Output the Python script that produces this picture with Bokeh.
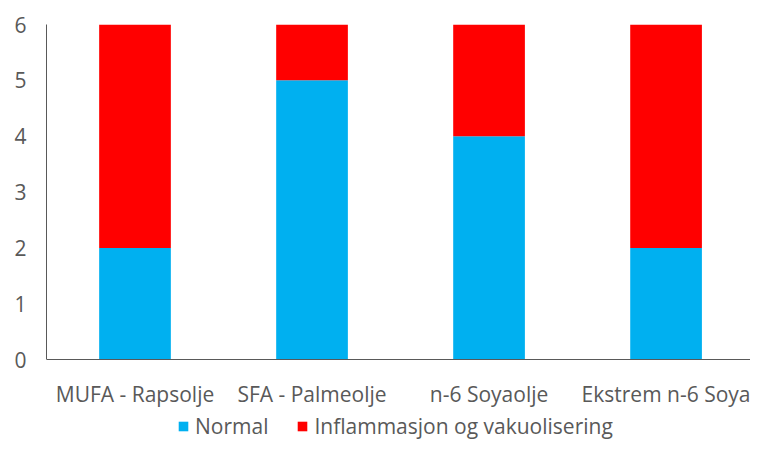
from bokeh.plotting import figure
from bokeh.models import Range1d, FixedTicker, Legend, LegendItem, ColumnDataSource
from bokeh.embed import file_html
from bokeh.resources import INLINE

categories = ["MUFA - Rapsolje", "SFA - Palmeolje", "n-6 Soyaolje", "Ekstrem n-6 Soya"]
normal = [2, 5, 4, 2]
inflam = [4, 1, 2, 4]
series_names = ["Normal", "Inflammasjon og vakuolisering"]
colors = ["#00B0F0", "#FF0000"]
y_ticks = [0, 1, 2, 3, 4, 5, 6]

FONT = "Open Sans"
GREY = "#595959"

xs = list(range(len(categories)))
src = ColumnDataSource(dict(x=xs, normal=normal, inflam=inflam,
                            top=[a + b for a, b in zip(normal, inflam)]))

# frame spans the whole height below the top border; y=0 sits ~82px above the bottom
p = figure(width=750, height=441, output_backend="svg", toolbar_location=None,
           x_range=Range1d(-0.5, 3.477), y_range=Range1d(-1.464, 6),
           min_border_left=46, min_border_right=0, min_border_top=24, min_border_bottom=0)
p.outline_line_color = None
p.grid.visible = False

r1 = p.vbar(x="x", bottom=0, top="normal", width=0.405, source=src,
            fill_color=colors[0], line_color=None)
r2 = p.vbar(x="x", bottom="normal", top="top", width=0.405, source=src,
            fill_color=colors[1], line_color=None)

p.xaxis.ticker = FixedTicker(ticks=xs)
p.xaxis.major_label_overrides = {i: c for i, c in enumerate(categories)}
p.xaxis.fixed_location = 0
p.yaxis.ticker = FixedTicker(ticks=y_ticks)
p.yaxis.bounds = (0, 6)

for ax in (p.xaxis, p.yaxis):
    ax.axis_line_color = GREY
    ax.axis_line_width = 1
    ax.major_tick_line_color = None
    ax.minor_tick_line_color = None
    ax.major_label_text_font = FONT
    ax.major_label_text_font_size = "21px"
    ax.major_label_text_color = GREY
p.xaxis.major_label_standoff = 14
p.yaxis.major_label_standoff = 14

legend = Legend(items=[LegendItem(label=series_names[0], renderers=[r1]),
                       LegendItem(label=series_names[1], renderers=[r2])],
                orientation="horizontal", location=(131, 1),
                glyph_width=12, glyph_height=12, label_height=16,
                label_standoff=6, spacing=28, padding=0, margin=0,
                border_line_color=None, background_fill_alpha=0,
                label_text_font=FONT, label_text_font_size="21px",
                label_text_color=GREY)
p.add_layout(legend, "center")

open("out.html", "w").write(file_html(p, INLINE))
